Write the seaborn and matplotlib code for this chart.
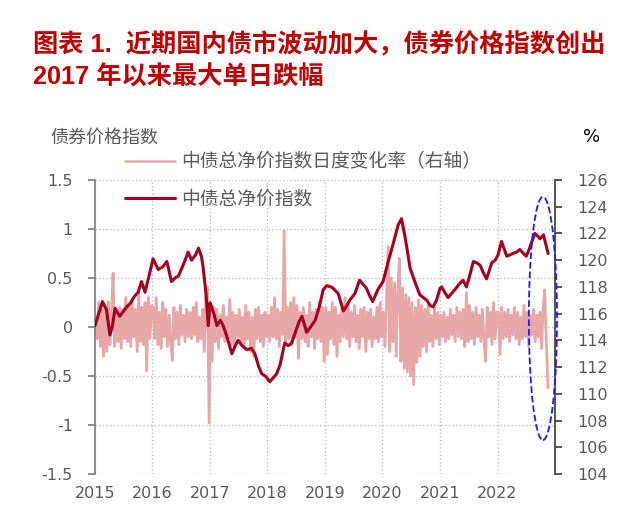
import numpy as np
import pandas as pd
import matplotlib
matplotlib.use("Agg")
import matplotlib.pyplot as plt
from matplotlib.patches import Ellipse
from matplotlib.lines import Line2D
import seaborn as sns

sns.set_theme(style="white")
plt.rcParams['font.family'] = ['DejaVu Sans', 'Noto Sans CJK SC']
plt.rcParams['axes.unicode_minus'] = False

chg_2015 = [0.05, -0.12, 0.25, -0.20, 0.22, -0.30, 0.18, -0.25, 0.26, -0.18, 0.12, 0.55,
            -0.20, 0.15, -0.15, 0.20, -0.22, 0.18, -0.12, 0.30, -0.15, 0.22, -0.20, 0.28,
            -0.10, 0.18, -0.25, 0.35, -0.15, 0.20, -0.18, 0.25, -0.45, 0.30, -0.12, 0.22]
chg_2016 = [0.20, -0.12, 0.30, -0.18, 0.15, -0.22, 0.25, -0.10, 0.18, -0.20, 0.12, -0.15,
            -0.34, 0.20, -0.12, 0.15, -0.18, 0.22, -0.08, 0.12, -0.15, 0.18, -0.10, 0.15,
            -0.12, 0.20, -0.08, 0.25, -0.15, 0.10, -0.12, 0.18, -0.25, 0.30, 0.41, -0.98]
chg_2017 = [0.25, -0.35, 0.20, -0.15, 0.18, -0.22, 0.12, -0.10, 0.22, -0.15, 0.10, -0.12,
            0.28, -0.18, 0.15, -0.20, 0.12, -0.10, 0.18, -0.15, 0.10, -0.18, 0.22, -0.12,
            0.15, -0.25, 0.10, -0.30, 0.18, -0.12, 0.20, -0.15, 0.12, -0.20, 0.15, -0.10]
chg_2018 = [0.12, -0.15, 0.20, -0.10, 0.30, -0.12, 0.18, -0.20, 0.15, -0.08, 0.98, -0.15,
            0.20, -0.12, 0.25, -0.18, 0.30, -0.10, 0.22, -0.32, 0.15, -0.12, 0.20, -0.15,
            0.12, -0.20, 0.25, -0.10, 0.15, -0.22, 0.18, -0.12, 0.25, -0.15, 0.20, -0.35]
chg_2019 = [0.20, -0.28, 0.15, -0.12, 0.25, -0.18, 0.20, -0.30, 0.12, -0.15, 0.18, -0.10,
            0.30, -0.12, 0.25, -0.20, 0.15, -0.10, 0.22, -0.15, 0.12, -0.22, 0.18, -0.10,
            0.20, -0.25, 0.15, -0.12, 0.18, -0.20, 0.10, -0.12, 0.20, -0.15, 0.25, -0.10]
chg_2020 = [0.15, -0.20, 0.30, 0.82, -0.25, 0.50, -0.15, 0.45, -0.30, 0.35, 0.70, -0.35,
            0.40, -0.42, 0.33, -0.46, 0.30, -0.50, 0.25, -0.59, 0.20, -0.36, 0.28, -0.30,
            0.22, -0.20, 0.18, -0.25, 0.22, -0.15, 0.12, -0.20, 0.20, -0.12, 0.15, -0.18]
chg_2021 = [0.12, -0.10, 0.15, -0.15, 0.10, -0.12, 0.18, -0.08, 0.12, -0.15, 0.20, -0.10,
            0.15, -0.12, 0.18, -0.20, 0.35, -0.15, 0.22, -0.12, 0.15, -0.18, 0.20, -0.10,
            0.12, -0.15, 0.18, -0.12, -0.35, 0.20, -0.10, 0.15, -0.18, 0.25, -0.12, 0.15]
chg_2022 = [0.15, -0.28, 0.20, -0.12, 0.15, -0.10, 0.18, -0.15, 0.12, -0.08, 0.20, -0.12,
            0.15, -0.18, 0.10, -0.12, 0.22, -0.10, 0.15, -0.20, 0.12, -0.08, 0.18, -0.15,
            0.12, -0.10, 0.15, -0.22, 0.20, 0.38, -0.15, -0.62]

# 中债总净价指数 (decimal year, index level)
idx_t = [2015.00, 2015.05, 2015.13, 2015.20, 2015.26, 2015.30, 2015.35, 2015.43, 2015.50, 2015.55,
         2015.62, 2015.67, 2015.75, 2015.81, 2015.87, 2015.95, 2016.01, 2016.10, 2016.18, 2016.25,
         2016.33, 2016.40, 2016.45, 2016.55, 2016.62, 2016.68, 2016.75, 2016.80, 2016.85, 2016.88,
         2016.93, 2016.97, 2017.00, 2017.03, 2017.08, 2017.12, 2017.18, 2017.23, 2017.30, 2017.38,
         2017.44, 2017.49, 2017.56, 2017.64, 2017.72, 2017.78, 2017.85, 2017.90, 2017.97, 2018.04,
         2018.10, 2018.16, 2018.22, 2018.25, 2018.30, 2018.36, 2018.42, 2018.50, 2018.55, 2018.60,
         2018.68, 2018.75, 2018.83, 2018.90, 2018.97, 2019.03, 2019.10, 2019.14, 2019.23, 2019.32,
         2019.38, 2019.43, 2019.52, 2019.60, 2019.66, 2019.72, 2019.78, 2019.83, 2019.92, 2020.01,
         2020.10, 2020.19, 2020.27, 2020.33, 2020.39, 2020.44, 2020.48, 2020.57, 2020.65, 2020.71,
         2020.77, 2020.83, 2020.88, 2020.94, 2021.00, 2021.03, 2021.08, 2021.14, 2021.20, 2021.26,
         2021.33, 2021.40, 2021.46, 2021.52, 2021.58, 2021.64, 2021.70, 2021.76, 2021.81, 2021.90,
         2021.96, 2022.01, 2022.07, 2022.12, 2022.16, 2022.22, 2022.27, 2022.33, 2022.39, 2022.45,
         2022.50, 2022.55, 2022.59, 2022.65, 2022.70, 2022.74, 2022.80, 2022.84, 2022.88]
idx_v = [115.1, 115.8, 116.9, 116.3, 114.4, 115.0, 116.4, 115.8, 116.2, 116.5,
         116.8, 117.2, 117.6, 118.4, 117.6, 119.0, 120.1, 119.3, 119.5, 119.9,
         118.4, 118.7, 118.8, 119.8, 120.6, 120.0, 120.4, 120.9, 120.3, 119.5,
         117.5, 115.1, 116.8, 116.5, 115.8, 115.1, 115.5, 115.1, 114.2, 113.0,
         113.6, 114.0, 113.6, 113.3, 113.4, 113.0, 112.0, 111.5, 111.3, 110.9,
         111.2, 111.5, 112.2, 112.8, 113.8, 113.6, 113.8, 114.8, 115.4, 115.8,
         114.6, 115.0, 115.5, 116.5, 117.8, 118.1, 118.0, 117.9, 117.5, 116.2,
         116.6, 117.0, 117.5, 118.5, 118.2, 117.9, 117.3, 116.9, 117.8, 118.4,
         119.9, 121.3, 122.6, 123.1, 121.8, 120.5, 119.4, 118.3, 117.4, 117.2,
         117.0, 116.6, 116.5, 117.0, 117.9, 118.0, 117.6, 117.2, 117.5, 117.8,
         118.2, 118.5, 118.0, 118.9, 119.9, 119.8, 119.6, 119.0, 118.6, 119.8,
         120.0, 120.4, 121.4, 120.8, 120.3, 120.4, 120.5, 120.6, 120.8, 120.5,
         120.3, 120.8, 121.3, 122.0, 121.8, 121.6, 121.9, 121.2, 120.5]

years = [2015, 2016, 2017, 2018, 2019, 2020, 2021, 2022]

chg = chg_2015 + chg_2016 + chg_2017 + chg_2018 + chg_2019 + chg_2020 + chg_2021 + chg_2022
dates = pd.date_range('2015-01-05', '2022-11-18', periods=len(chg))
df_chg = pd.DataFrame({'t': dates.year + (dates.dayofyear - 1) / 365.25, 'v': chg})
df_idx = pd.DataFrame({'t': idx_t, 'v': idx_v})

pink = '#E8A7A7'
dark = '#A50021'
grey = '#595959'

fig = plt.figure(figsize=(6.4, 5.28), dpi=100)
ax = fig.add_axes([0.1484, 0.1023, 0.7188, 0.5568])
sns.lineplot(data=df_chg, x='t', y='v', ax=ax, color=pink, lw=2.0)
ax.set_xlim(2015, 2023)
ax.set_ylim(-1.5, 1.5)
ax.set_yticks([-1.5, -1, -0.5, 0, 0.5, 1, 1.5])
ax.set_yticklabels(['-1.5', '-1', '-0.5', '0', '0.5', '1', '1.5'])
ax.set_xticks(years)
ax.set_xticklabels([str(y) for y in years])
ax.set_xlabel('')
ax.set_ylabel('')
ax.grid(True, ls=':', color='#BFBFBF', lw=1)
for s in ['top', 'bottom', 'right']:
    ax.spines[s].set_visible(False)
ax.spines['left'].set_color('#808080')
ax.tick_params(axis='y', direction='out', length=5, color='#808080', labelsize=11.5,
               labelcolor=grey, pad=11, left=True)
ax.tick_params(axis='x', length=0, labelsize=11.5, labelcolor=grey, pad=9)

ax2 = ax.twinx()
sns.lineplot(data=df_idx, x='t', y='v', ax=ax2, color=dark, lw=2.2)
ax2.set_ylim(104, 126)
ax2.set_yticks(range(104, 127, 2))
ax2.set_ylabel('')
for s in ['top', 'bottom', 'left']:
    ax2.spines[s].set_visible(False)
ax2.spines['right'].set_color('#404040')
ax2.tick_params(axis='y', direction='out', length=5, color='#404040', labelsize=11.5,
                labelcolor=grey, pad=11, right=True)
ax2.grid(False)

ax2.add_patch(Ellipse((2022.79, 115.64), 0.49, 18.2, fill=False, ec='#1A1AFF',
                      ls='--', lw=1.3, clip_on=False, zorder=5))

handles = [Line2D([], [], color=pink, lw=1.8), Line2D([], [], color=dark, lw=2.2)]
labels = ['中债总净价指数日度变化率（右轴）', '中债总净价指数']
fig.legend(handles, labels, loc='upper left', bbox_to_anchor=(0.195, 0.712), frameon=False,
           fontsize=13.5, labelcolor=grey, handlelength=2.7, handletextpad=0.3,
           labelspacing=1.0, borderpad=0, borderaxespad=0)

fig.text(0.078, 0.74, '债券价格指数', fontsize=13, color=grey, va='center')
fig.text(0.925, 0.74, '%', fontsize=13, color='black', va='center', ha='center')

title_font = ['Liberation Sans', 'Noto Sans CJK SC']
fig.text(0.052, 0.916, '图表 1.  近期国内债市波动加大，债券价格指数创出', fontsize=18.2,
         color='#C00000', fontweight='bold', family=title_font, va='center')
fig.text(0.052, 0.853, '2017 年以来最大单日跌幅', fontsize=18.2,
         color='#C00000', fontweight='bold', family=title_font, va='center')

fig.savefig('out.png', dpi=100)
